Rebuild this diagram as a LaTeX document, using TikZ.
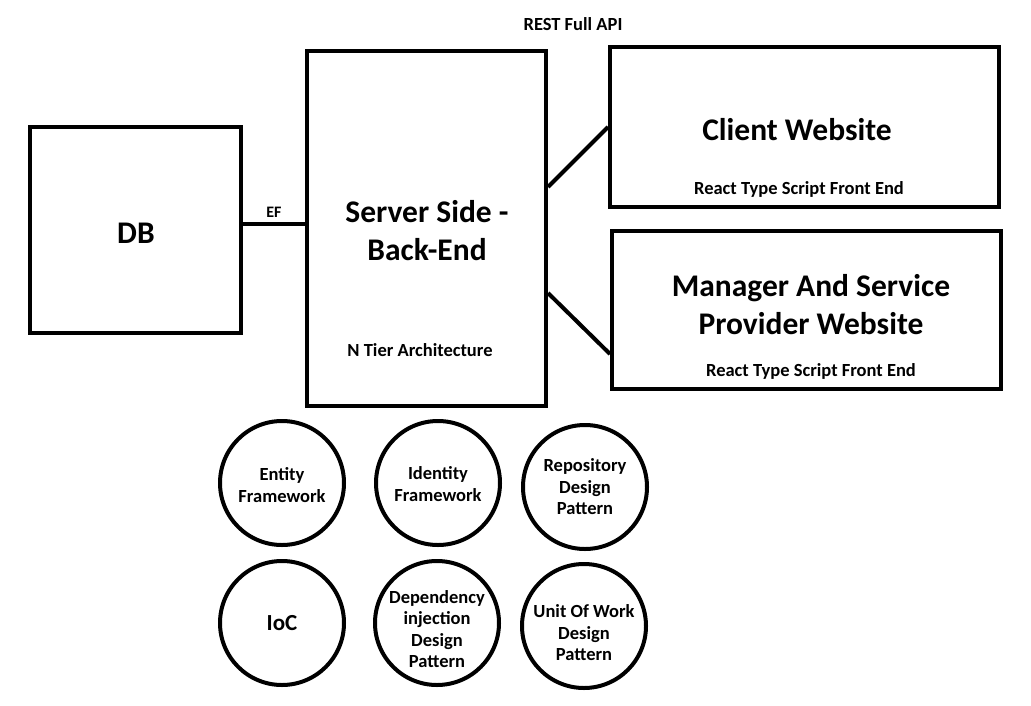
\documentclass[tikz,border=0pt]{standalone}
\usepackage{fontspec}
\setmainfont{Carlito}
\usetikzlibrary{positioning, calc}
\tikzset{
    box/.style={draw, line width=4pt, inner sep=0pt},
    bubble/.style={draw, circle, line width=4pt, minimum size=124pt, inner sep=0pt},
    bubbletext/.style={align=center, font=\fontsize{18.5}{21.5}\selectfont\bfseries},
    title/.style={align=center, font=\fontsize{31.5}{38}\selectfont\bfseries},
    note/.style={font=\fontsize{18.5}{20}\selectfont\bfseries},
    tag/.style={font=\fontsize{16}{18}\selectfont\bfseries},
    link/.style={line width=4pt},
}
\begin{document}
\begin{tikzpicture}[x=1pt, y=-1pt]
    \useasboundingbox (0,0) rectangle (1031,705);

    % main blocks
    \node[box, minimum width=211pt, minimum height=206pt] (db) at (135.5,230) {};
    \node[box, minimum width=239pt, minimum height=355pt] (srv) at (426.5,228.5) {};
    \node[box, minimum width=389pt, minimum height=160pt] (client) at (804.5,127) {};
    \node[box, minimum width=389pt, minimum height=158pt] (mgr) at (806.5,310) {};

    \node[title] (dbtxt) at (136,233) {DB};
    \node[title] (srvtxt) at (427,231) {Server Side -\\Back-End};
    \node[note] (srvsub) at (420,350) {N Tier Architecture};
    \node[title] (clienttxt) at (797,130) {Client Website};
    \node[note] (clientsub) at (799,189) {React Type Script Front End};
    \node[title] (mgrtxt) at (811,305) {Manager And Service\\Provider Website};
    \node[note] (mgrsub) at (811,371) {React Type Script Front End};

    \node[note] (rest) at (573,24) {REST Full API};

    % connectors
    \draw[link] ([yshift=6pt]db.east) -- ([yshift=6pt]db.east -| srv.west)
        node[tag, midway, above=1pt] (ef) {EF};
    \draw[link] ([yshift=41.5pt]srv.east) -- (client.west);
    \draw[link] ([yshift=-64.5pt]srv.east) -- ([yshift=-44pt]mgr.west);

    % technologies
    \node[bubble] (entity) at (282,483) {};
    \node[bubble] (identity) at (438,483) {};
    \node[bubble] (repo) at (585,487) {};
    \node[bubble] (ioc) at (282,623) {};
    \node[bubble] (di) at (437,623) {};
    \node[bubble] (uow) at (584,626) {};

    \node[bubbletext] at ([yshift=-2pt]entity) {Entity\\Framework};
    \node[bubbletext] at ([yshift=-1pt]identity) {Identity\\Framework};
    \node[bubbletext] at ([yshift=0pt]repo) {Repository\\Design\\Pattern};
    \node[bubbletext, font=\fontsize{23}{22}\selectfont\bfseries] at (ioc) {IoC};
    \node[bubbletext] at ([yshift=-6pt]di) {Dependency\\injection\\Design\\Pattern};
    \node[bubbletext] at ([yshift=-7pt]uow) {Unit Of Work\\Design\\Pattern};
\end{tikzpicture}
\end{document}
